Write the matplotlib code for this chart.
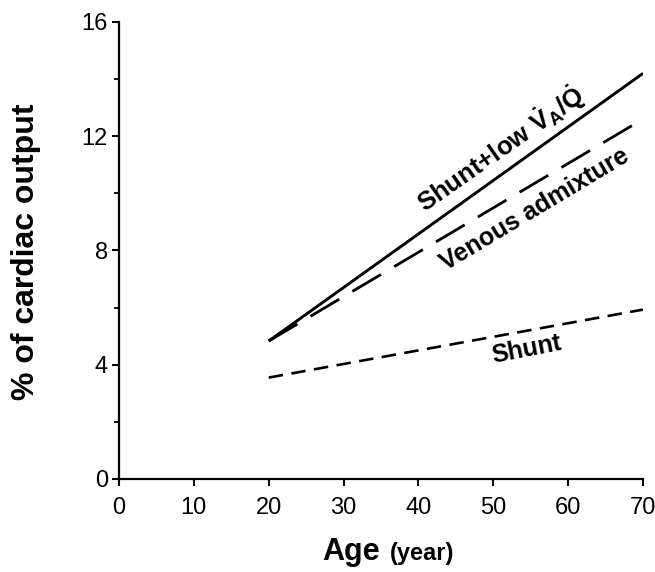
import numpy as np
import matplotlib
matplotlib.use('Agg')
from matplotlib import pyplot as plt

plt.rcParams['font.family'] = ['Liberation Sans', 'DejaVu Sans']
plt.rcParams['mathtext.fontset'] = 'custom'
plt.rcParams['mathtext.rm'] = 'Liberation Sans:bold'
plt.rcParams['mathtext.it'] = 'Liberation Sans:bold'
plt.rcParams['mathtext.bf'] = 'Liberation Sans:bold'

# values (% of cardiac output vs age)
age = [20, 70]
shunt_low_va = [4.83, 14.2]
venous_admix = [4.83, 12.6]
shunt = [3.55, 5.93]

xticks = [0, 10, 20, 30, 40, 50, 60, 70]
yticks = [0, 4, 8, 12, 16]
yminor = [2, 6, 10, 14]

fig = plt.figure(figsize=(6.55, 5.72), dpi=100)
ax = fig.add_axes([0.1817, 0.1626, 0.8, 0.799])

ax.plot(age, shunt_low_va, color='black', lw=2.1, solid_capstyle='butt')
l2, = ax.plot(age, venous_admix, color='black', lw=2.0)
l2.set_dashes((12, 5.5))
l3, = ax.plot(age, shunt, color='black', lw=1.9)
l3.set_dashes((5.5, 3.2))

ax.set_xlim(0, 70)
ax.set_ylim(0, 16)
ax.set_xticks(xticks)
ax.set_yticks(yticks)
ax.set_yticks(yminor, minor=True)
ax.spines['top'].set_visible(False)
ax.spines['right'].set_visible(False)
ax.spines['left'].set_linewidth(1.6)
ax.spines['bottom'].set_linewidth(1.6)
ax.tick_params(axis='both', which='major', direction='out', length=5, width=1.5, labelsize=17)
ax.tick_params(axis='y', which='minor', direction='out', length=3.5, width=1.3)
ax.tick_params(axis='x', pad=8)
ax.tick_params(axis='y', pad=3)

# line labels
ax.text(50.9, 11.55, r'Shunt+low $\mathbf{\dot{V}_A/\dot{Q}}$',
        rotation=35, rotation_mode='anchor', ha='center', va='center',
        fontsize=18.5, fontweight='bold')
ax.text(55.5, 9.42, 'Venous admixture', rotation=31, rotation_mode='anchor',
        ha='center', va='center', fontsize=18, fontweight='bold')
ax.text(54.5, 4.52, 'Shunt', rotation=11, rotation_mode='anchor',
        ha='center', va='center', fontsize=18, fontweight='bold')

# axis titles
fig.text(26 / 655, 0.5 + 0.06, '% of cardiac output', rotation=90, ha='center', va='center',
         fontsize=23, fontweight='bold')
fig.text(322 / 655, 1 - 560 / 572, 'Age', ha='left', va='baseline', fontsize=22, fontweight='bold')
fig.text(390 / 655, 1 - 560 / 572, '(year)', ha='left', va='baseline', fontsize=17, fontweight='bold')

plt.savefig('out.png', dpi=100)
